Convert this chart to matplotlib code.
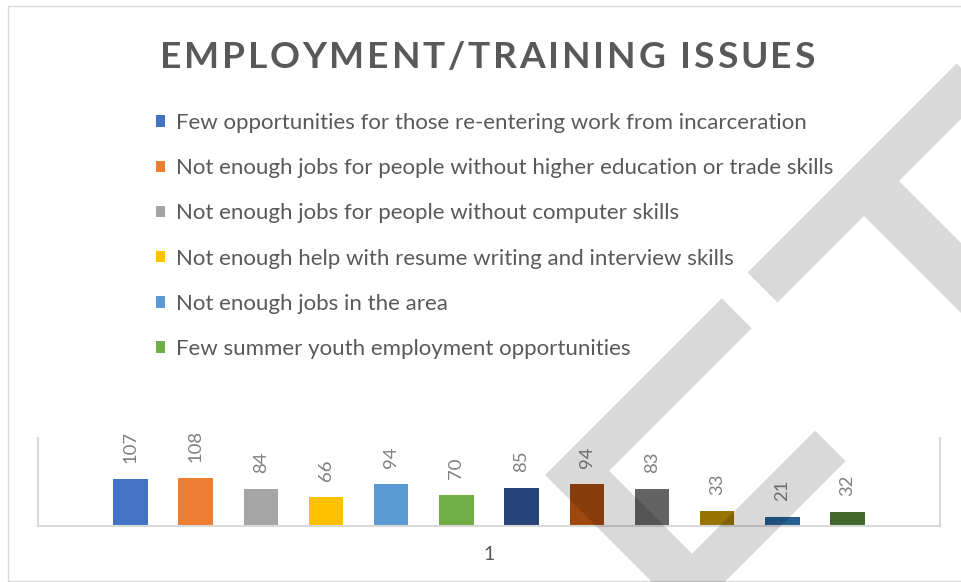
import numpy as np
import matplotlib
matplotlib.use("Agg")
import matplotlib.pyplot as plt
from matplotlib.patches import Polygon, Rectangle

# ---------------- data ----------------
categories = ["1"]
series_labels = [
    "Few opportunities for those re-entering work from incarceration",
    "Not enough jobs for people without higher education or trade skills",
    "Not enough jobs for people without computer skills",
    "Not enough help with resume writing and interview skills",
    "Not enough jobs in the area",
    "Few summer youth employment opportunities",
]
values = [107, 108, 84, 66, 94, 70, 85, 94, 83, 33, 21, 32]
colors = ["#4472C4", "#ED7D31", "#A5A5A5", "#FFC000", "#5B9BD5", "#70AD47",
          "#264478", "#9E480E", "#636363", "#997300", "#255E91", "#43682B"]
title = "EMPLOYMENT/TRAINING ISSUES"

# ---------------- layout helpers ----------------
W, H = 961, 582
fig = plt.figure(figsize=(W / 100, H / 100), dpi=100)
fig.patch.set_facecolor("white")
r = fig.canvas.get_renderer()

def fx(x):
    return x / W

def fy(y):
    return 1 - y / H

FONT = "Lato"
TXT = "#595959"

# chart frame
fig.patches.append(Rectangle((fx(8), fy(581)), fx(975) - fx(8), fy(6) - fy(581),
                             transform=fig.transFigure, fill=False,
                             ec="#d9d9d9", lw=1.0, zorder=1))

# ---------------- axes & bars ----------------
ax = fig.add_axes([fx(38), fy(526), fx(940) - fx(38), (526 - 437.6) / H])
ax.set_facecolor("none")
n = len(values)
x = np.arange(n)
bw = 0.525
conts = []
for i in range(n):
    c = ax.bar(x[i], values[i], bw, color=colors[i], zorder=2,
               label=series_labels[i] if i < len(series_labels) else None)
    conts.append(c)
    ax.bar_label(c, padding=11.5, rotation=90, fontsize=13.3, color="#7f7f7f",
                 family=FONT)

half = (940 - 38) / 2 / 65.2
ax.set_xlim((n - 1) / 2 - half, (n - 1) / 2 + half)
ax.set_ylim(0, 200)
ax.set_yticks([])
ax.set_xticks([(n - 1) / 2])
ax.set_xticklabels(categories, fontsize=14, color=TXT, family=FONT)
ax.tick_params(axis="x", length=0, pad=14.5)
for s in ("left", "right", "bottom"):
    ax.spines[s].set_color("#d9d9d9")
    ax.spines[s].set_linewidth(1.5)
ax.spines["top"].set_visible(False)

# ---------------- title with letter spacing ----------------
def tracked_text(s, xc, yb, total_w, **kw):
    widths = []
    for ch in s:
        if ch == " ":
            t1 = fig.text(0, 0, "I I", **kw)
            t2 = fig.text(0, 0, "II", **kw)
            w = t1.get_window_extent(r).width - t2.get_window_extent(r).width
            t1.remove(); t2.remove()
        else:
            t = fig.text(0, 0, ch, **kw)
            w = t.get_window_extent(r).width
            t.remove()
        widths.append(w)
    track = (total_w - sum(widths)) / (len(s) - 1)
    xx = xc - total_w / 2
    for ch, w in zip(s, widths):
        if ch != " ":
            fig.text(fx(xx), fy(yb), ch, ha="left", va="baseline", **kw)
        xx += w + track

tracked_text(title, 487.5, 68.3, 655, fontsize=26.7, family=FONT,
             weight="bold", color=TXT)

# ---------------- legend ----------------
probe = fig.text(0, 0, series_labels[1], fontsize=14, family=FONT)
wprobe = probe.get_window_extent(r).width
probe.remove()
lfs = 14 * 657 / wprobe
lpx = lfs * 100 / 72
leg = fig.legend([c for c in conts[:len(series_labels)]], series_labels,
                 loc="upper left", bbox_to_anchor=(fx(156), fy(113)),
                 frameon=False, borderpad=0, borderaxespad=0,
                 prop={"family": FONT, "size": lfs},
                 handlelength=9 / lpx, handleheight=9 / lpx,
                 handletextpad=11.5 / lpx, labelspacing=1.0 + 3.0 / lpx,
                 labelcolor=TXT)

# ---------------- watermark (multiply-like gray) ----------------
wm_T = [(956.5, 63.5), (747.5, 272.5), (777.5, 302.5), (864, 216),
        (1074, 426), (1109, 391), (899, 181), (986.5, 93.5)]
wm_U = [(721.7, 298.3), (545, 475), (688.35, 618.35), (845.6, 461.1),
        (815.1, 430.6), (692, 553.7), (609.15, 470.85), (751.7, 328.3)]
for poly in (wm_T, wm_U):
    pts = [(fx(px), fy(py)) for px, py in poly]
    fig.patches.append(Polygon(pts, closed=True, transform=fig.transFigure,
                               fc="black", alpha=0.15, ec="none", zorder=10))

fig.savefig("out.png", dpi=100)
